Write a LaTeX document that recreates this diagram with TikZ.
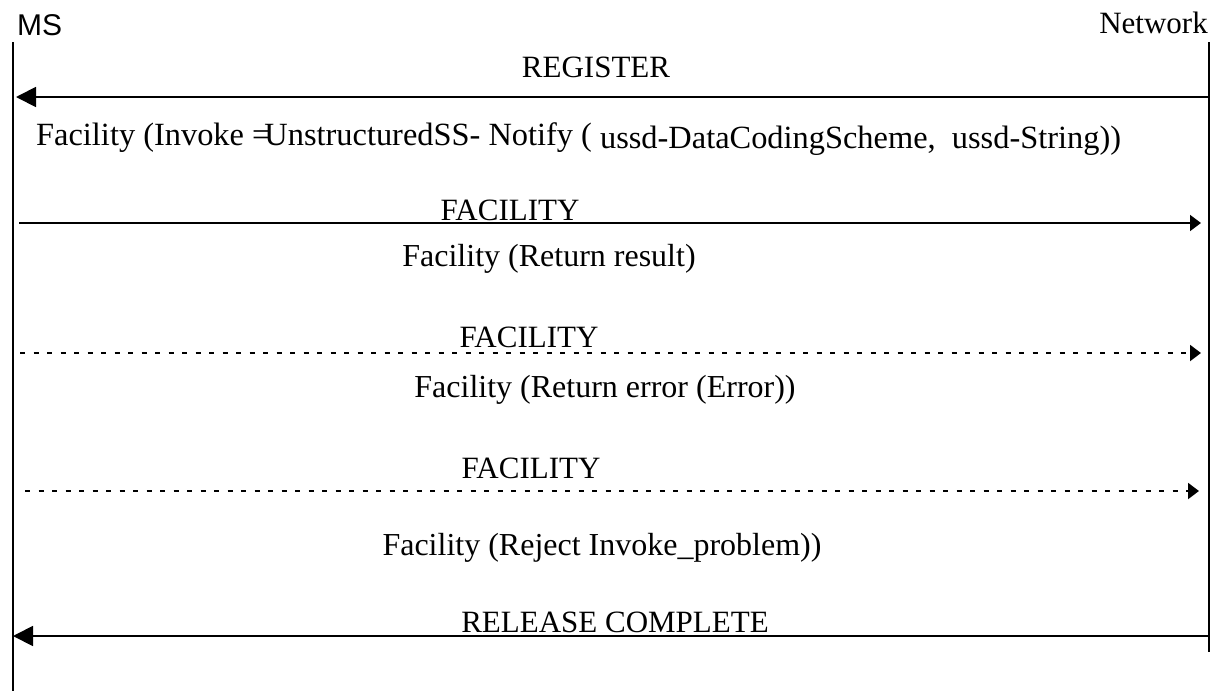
\documentclass[tikz,border=0pt]{standalone}
\usepackage{fontspec}
\setmainfont{Liberation Serif}
\setsansfont{Liberation Sans}
\usetikzlibrary{arrows.meta}
\tikzset{
  life/.style={line width=2pt},
  msg/.style={line width=1.8pt},
  dotmsg/.style={line width=2pt, dash pattern=on 5pt off 8.5pt},
  bighead/.style={-{Triangle[length=20pt,width=20pt]}},
  smallhead/.style={-{Triangle[length=11pt,width=16pt]}},
  lbl/.style={inner sep=0pt, anchor=base, font=\fontsize{31}{31}\selectfont},
  info/.style={inner sep=0pt, anchor=base, font=\fontsize{32}{32}\selectfont},
}
\begin{document}
\begin{tikzpicture}[x=1pt,y=-1pt]
\useasboundingbox (0,0) rectangle (1224,691);
% actors
\node[inner sep=0pt, anchor=base west, font=\sffamily\fontsize{30}{30}\selectfont] (ms) at (17,35) {MS};
\node[inner sep=0pt, anchor=base east, font=\fontsize{31}{31}\selectfont] (net) at (1208,33) {Network};
% lifelines
\coordinate (lt) at (13,42);
\coordinate (lb) at (13,691);
\coordinate (rt) at (1209,42);
\coordinate (rb) at (1209,652);
\draw[life] (lt) -- (lb);
\draw[life] (rt) -- (rb);
% REGISTER
\coordinate (a1s) at (1209,97);
\coordinate (a1e) at (16,97);
\draw[msg,bighead] (a1s) -- (a1e);
\node[lbl] (t1) at (596,77) {REGISTER};
\node[inner sep=0pt, anchor=base west, font=\fontsize{32.4}{32.4}\selectfont] (i1) at (36,145)
  {Facility (Invoke =\kern-6pt UnstructuredSS- Notify ( \raisebox{-3pt}{ussd-DataCodingScheme,\ \ ussd-String))}};
% FACILITY 1
\coordinate (a2s) at (19,223);
\coordinate (a2e) at (1201,223);
\draw[msg,smallhead] (a2s) -- (a2e);
\node[lbl] (t2) at (510,220) {FACILITY};
\node[info] (i2) at (549,266) {Facility (Return result)};
% FACILITY 2
\coordinate (a3s) at (20,353);
\coordinate (a3e) at (1201,353);
\draw[dotmsg,smallhead] (a3s) -- (a3e);
\node[lbl] (t3) at (529,347) {FACILITY};
\node[info] (i3) at (605,397) {Facility (Return error (Error))};
% FACILITY 3
\coordinate (a4s) at (25,491);
\coordinate (a4e) at (1199,491);
\draw[dotmsg,smallhead] (a4s) -- (a4e);
\node[lbl] (t4) at (531,478) {FACILITY};
\node[info] (i4) at (602,555) {Facility (Reject Invoke\_problem))};
% RELEASE COMPLETE
\coordinate (a5s) at (1209,636);
\coordinate (a5e) at (13,636);
\draw[msg,bighead] (a5s) -- (a5e);
\node[lbl] (t5) at (615,632) {RELEASE COMPLETE};
\end{tikzpicture}
\end{document}
